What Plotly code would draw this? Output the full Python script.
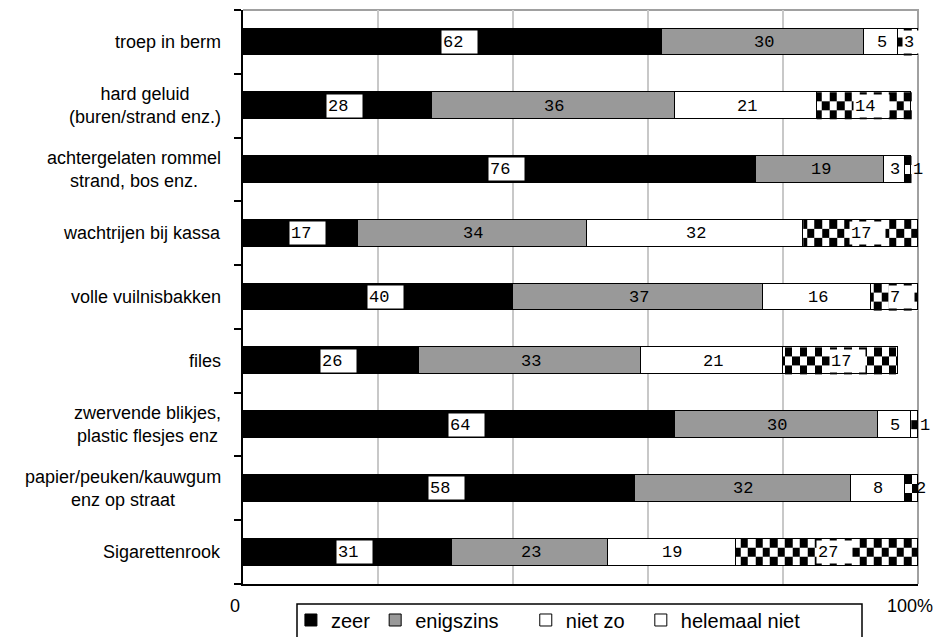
import numpy as np
import plotly.graph_objects as go

# Survey items, listed top to bottom
categories = [
    "troep in berm",
    "hard geluid<br>(buren/strand enz.)",
    "achtergelaten rommel<br>strand, bos enz.",
    "wachtrijen bij kassa",
    "volle vuilnisbakken",
    "files",
    "zwervende blikjes,<br>plastic flesjes enz",
    "papier/peuken/kauwgum<br>enz op straat",
    "Sigarettenrook",
]

# Percentage of respondents per answer
zeer = [62, 28, 76, 17, 40, 26, 64, 58, 31]
enigszins = [30, 36, 19, 34, 37, 33, 30, 32, 23]
niet_zo = [5, 21, 3, 32, 16, 21, 5, 8, 19]
helemaal_niet = [3, 14, 1, 17, 7, 17, 1, 2, 27]

series_names = ["zeer", "enigszins", "niet zo", "helemaal niet"]
x_tick_vals = [0, 20, 40, 60, 80, 100]
x_tick_text = ["0", "", "", "", "", "100%"]

SANS = "Liberation Sans, Arial, sans-serif"
MONO = "Liberation Mono, Courier New, monospace"
BAR_W = 0.42
CHECK_X = 1.1      # width of one checker square, in % units
CHECK_ROWS = 3
# extra trailing space after some legend entries, to spread them out
LEGEND_PAD = {"zeer": 0, "enigszins": 4, "niet zo": 2, "helemaal niet": 0}

pos = list(range(len(categories)))
series = [zeer, enigszins, niet_zo, helemaal_niet]
fills = ["#000000", "#999999", "#ffffff", "rgba(0,0,0,0)"]

fig = go.Figure()

# Checkerboard fill for "helemaal niet", drawn as small heatmaps under the bars
for i in pos:
    start = zeer[i] + enigszins[i] + niet_zo[i]
    end = start + helemaal_niet[i]
    if end <= start:
        continue
    k0 = int(np.floor(start / CHECK_X))
    k1 = int(np.ceil(end / CHECK_X))
    inner = [k * CHECK_X for k in range(k0 + 1, k1) if start < k * CHECK_X < end]
    xe = [start] + inner + [end]
    cols = [int(np.floor((a + b) / 2 / CHECK_X)) for a, b in zip(xe[:-1], xe[1:])]
    ye = [i - BAR_W / 2 + r * BAR_W / CHECK_ROWS for r in range(CHECK_ROWS + 1)]
    z = [[(c + r) % 2 for c in cols] for r in range(CHECK_ROWS)]
    fig.add_trace(go.Heatmap(
        x=xe, y=ye, z=z, zmin=0, zmax=1,
        colorscale=[[0, "#ffffff"], [1, "#000000"]],
        showscale=False, hoverinfo="skip", showlegend=False,
    ))

for name, vals, col in zip(series_names, series, fills):
    fig.add_trace(go.Bar(
        name=name + "\u00a0" * LEGEND_PAD[name], y=pos, x=vals,
        orientation="h", width=BAR_W,
        marker=dict(color=col, line=dict(color="#000000", width=1)),
        hoverinfo="x+name",
    ))

annotations = []

# Value labels on every segment
LABEL_SIZE = 17
CHAR_W = 0.6 * LABEL_SIZE
for i in pos:
    left = 0
    for s, vals in enumerate(series):
        v = vals[i]
        centre = left + v / 2
        txt = str(v)
        tw = CHAR_W * len(txt)
        narrow = v <= 2
        boxed = s in (0, 3) and not narrow
        shift = 3 if narrow else -tw / 2 - 1
        annotations.append(dict(
            x=centre, y=i, xref="x", yref="y", text=txt, showarrow=False,
            xanchor="left", yanchor="middle", xshift=shift,
            align="left", width=tw + 13, height=20, borderpad=1,
            bgcolor="#ffffff" if boxed else "rgba(0,0,0,0)",
            font=dict(family=MONO, size=LABEL_SIZE, color="#000000"),
        ))
        left += v

# Category labels left of the axis
for i, cat in zip(pos, categories):
    annotations.append(dict(
        x=0, y=i, xref="paper", yref="y", text=cat, showarrow=False,
        xanchor="right", yanchor="middle", align="center", xshift=-20,
        font=dict(family=SANS, size=18, color="#000000"),
    ))

fig.update_layout(
    width=935, height=637,
    margin=dict(l=243, r=17, t=10, b=53, autoexpand=False),
    paper_bgcolor="#ffffff", plot_bgcolor="#ffffff",
    barmode="stack", bargap=0,
    showlegend=True,
    legend=dict(
        orientation="h", x=0.071, xanchor="left", y=-0.0627, yanchor="middle",
        borderwidth=0, bgcolor="rgba(0,0,0,0)",
        font=dict(family=SANS, size=20, color="#000000"),
        traceorder="normal",
    ),
    annotations=annotations,
    shapes=[
        # light frame on the top and right of the plot area
        dict(type="path", xref="paper", yref="paper", path="M0,1 L1,1 L1,0",
             line=dict(color="#a0a0a0", width=2), layer="below"),
        # legend frame, running past the bottom edge of the page
        dict(type="rect", xref="paper", yref="paper",
             x0=(297 - 243) / 675, x1=(862 - 243) / 675,
             y0=-(660 - 584) / 574, y1=-(604 - 584) / 574,
             line=dict(color="#000000", width=1.5), fillcolor="#ffffff",
             layer="below"),
    ],
)

fig.update_xaxes(
    range=[0, 100], tickvals=x_tick_vals, ticktext=x_tick_text,
    showgrid=True, gridcolor="#c8c8c8", gridwidth=2, zeroline=False,
    showline=True, linecolor="#000000", linewidth=2, ticks="",
    ticklabelshift=-8, ticklabelstandoff=4, ticklabeloverflow="allow",
    tickfont=dict(family=SANS, size=18, color="#000000"),
)
fig.update_yaxes(
    range=[len(categories) - 0.5, -0.5],
    tickvals=[p - 0.5 for p in pos] + [len(categories) - 0.5],
    showticklabels=False, ticks="outside", ticklen=7, tickwidth=2,
    tickcolor="#000000", showgrid=False, zeroline=False,
    showline=True, linecolor="#000000", linewidth=2,
)

fig.write_html("out.html")
